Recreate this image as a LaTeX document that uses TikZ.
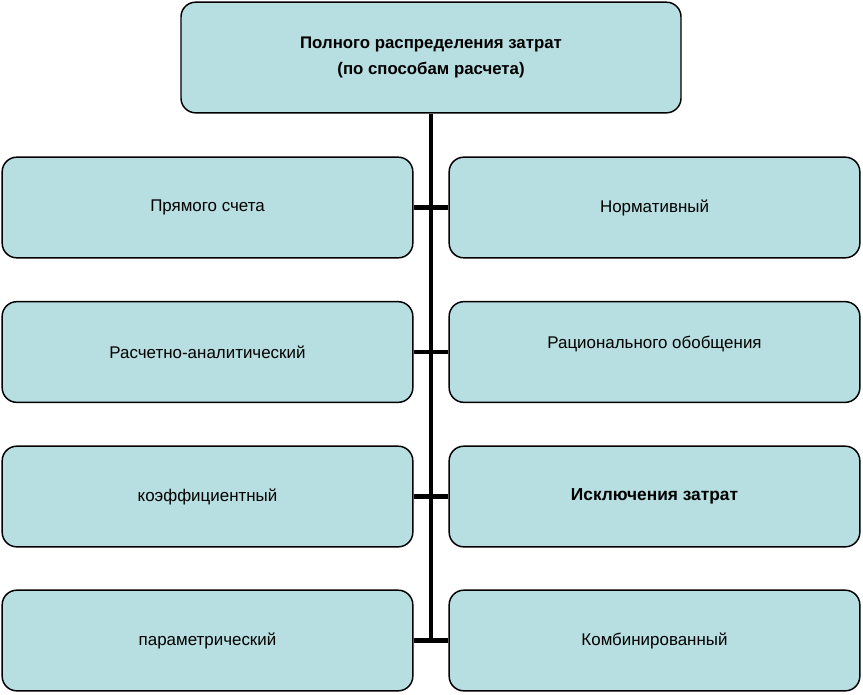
\documentclass[tikz,border=0pt]{standalone}
\usepackage{fontspec}
\setmainfont{Liberation Sans}
\definecolor{boxfill}{HTML}{B7DEE1}

\begin{document}
\begin{tikzpicture}[x=0.75pt, y=-0.75pt,
	box/.style={draw, line width=1.1pt, fill=boxfill, rounded corners=11pt,
		minimum width=308pt, minimum height=75.5pt, font=\fontsize{12.7}{14}\selectfont},
	head/.style={box, minimum width=375pt, minimum height=83pt, align=center,
		font=\fontsize{12.6}{19.5}\selectfont\bfseries},
	trunk/.style={line width=3.6pt}]
	\useasboundingbox (0,0) rectangle (863,694);
	% top
	\node[head] (top) at (431,57.5) {Полного распределения затрат\\(по способам расчета)};
	% left column
	\node[box] (l1) at (207.5,207.5) {Прямого счета};
	\node[box] (l2) at (207.5,352) {Расчетно-аналитический};
	\node[box] (l3) at (207.5,496.5) {коэффициентный};
	\node[box] (l4) at (207.5,640.5) {параметрический};
	% right column
	\node[box] (r1) at (654.5,207.5) {Нормативный};
	\node[box, label={[font=\fontsize{12.7}{14}\selectfont, yshift=6pt]center:Рационального обобщения}] (r2) at (654.5,352) {};
	\node[box, font=\fontsize{13}{14}\selectfont\bfseries] (r3) at (654.5,496.5) {Исключения затрат};
	\node[box] (r4) at (654.5,640.5) {Комбинированный};
	% lines
	\coordinate (end) at (431,640.5);
	\draw[trunk] (top.south) -- (end);
	\draw[trunk] (l1.east) -- (r1.west);
	\draw[trunk] (l2.east) -- (r2.west);
	\draw[trunk] (l3.east) -- (r3.west);
	\draw[trunk] (l4.east) -- (r4.west);
\end{tikzpicture}
\end{document}
